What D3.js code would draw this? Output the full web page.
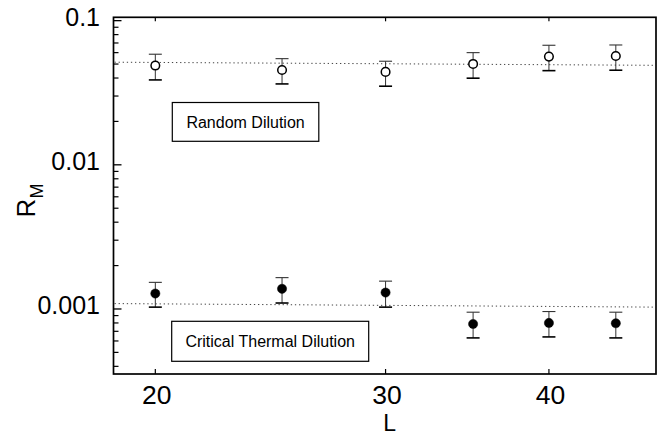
<!DOCTYPE html>
<html>
<head>
<meta charset="utf-8">
<script src="https://cdn.jsdelivr.net/npm/d3@7"></script>
<style>
  html, body { margin: 0; padding: 0; background: #fff; }
  svg { display: block; }
  text { font-family: "Liberation Sans", Arial, Helvetica, sans-serif; fill: #000; }
</style>
</head>
<body>
<svg id="chart" width="662" height="436"></svg>
<script>
// ---- data ----
const L = [20, 25, 30, 35, 40, 45];

const randomVal = [0.0488, 0.0455, 0.0441, 0.0501, 0.0563, 0.0569];
const randomLo  = [0.0388, 0.0364, 0.0351, 0.0399, 0.0450, 0.0453];
const randomHi  = [0.0585, 0.0545, 0.0523, 0.0600, 0.0675, 0.0678];

const criticalVal = [0.00128, 0.00138, 0.00130, 0.000787, 0.00080, 0.000796];
const criticalLo  = [0.00103, 0.00110, 0.00103, 0.00063, 0.00064, 0.00063];
const criticalHi  = [0.00153, 0.00165, 0.00156, 0.00095, 0.00096, 0.00095];

// dotted fit lines (value at left and right end of the L range)
const randomFit   = [0.0515, 0.0490];
const criticalFit = [0.00109, 0.00103];

const xDomain = [18.58, 48.3];
const yDomain = [0.000354, 0.1055];

const xTicks = [20, 30, 40];
const xTickLabels = ["20", "30", "40"];
const yTicks = [0.001, 0.01, 0.1];
const yTickLabels = ["0.001", "0.01", "0.1"];

const legendLabels = ["Random Dilution", "Critical Thermal Dilution"];

// ---- layout ----
const plotLeft = 113.5, plotRight = 656, plotTop = 17.3, plotBottom = 374;

const svg = d3.select("#chart");
const x = d3.scaleLog().domain(xDomain).range([plotLeft, plotRight]);
const y = d3.scaleLog().domain(yDomain).range([plotBottom, plotTop]);

// frame
svg.append("rect")
  .attr("x", plotLeft).attr("y", plotTop)
  .attr("width", plotRight - plotLeft).attr("height", plotBottom - plotTop)
  .attr("fill", "none").attr("stroke", "#000").attr("stroke-width", 1.7);

// y ticks (inward)
const minorY = y.ticks().filter(v => !yTicks.some(t => Math.abs(t - v) / t < 1e-6));
svg.append("g").selectAll("line").data(minorY).join("line")
  .attr("x1", plotLeft).attr("x2", plotLeft + 5)
  .attr("y1", d => y(d)).attr("y2", d => y(d))
  .attr("stroke", "#000").attr("stroke-width", 1.2);
svg.append("g").selectAll("line").data(yTicks).join("line")
  .attr("x1", plotLeft).attr("x2", plotLeft + 8)
  .attr("y1", d => y(d)).attr("y2", d => y(d))
  .attr("stroke", "#000").attr("stroke-width", 1.3);
svg.append("g").selectAll("text").data(yTicks).join("text")
  .attr("x", 100).attr("y", d => y(d) + 5.2)
  .attr("text-anchor", "end")
  .attr("font-size", 25)
  .text((d, i) => yTickLabels[i]);

// x ticks (inward, bottom and top)
svg.append("g").selectAll("line").data(xTicks).join("line")
  .attr("x1", d => x(d)).attr("x2", d => x(d))
  .attr("y1", plotBottom).attr("y2", plotBottom - 5)
  .attr("stroke", "#000").attr("stroke-width", 1.2);
svg.append("g").selectAll("line").data(xTicks).join("line")
  .attr("x1", d => x(d)).attr("x2", d => x(d))
  .attr("y1", plotTop).attr("y2", plotTop + 4)
  .attr("stroke", "#000").attr("stroke-width", 1.2);
svg.append("g").selectAll("text").data(xTicks).join("text")
  .attr("x", d => x(d) + 1.5).attr("y", 404)
  .attr("text-anchor", "middle")
  .attr("font-size", 26.5)
  .text((d, i) => xTickLabels[i]);

// axis titles
svg.append("text")
  .attr("x", 389.7).attr("y", 431)
  .attr("text-anchor", "middle")
  .attr("font-size", 23)
  .text("L");

const yt = svg.append("text")
  .attr("transform", "translate(35,200.5) rotate(-90)")
  .attr("text-anchor", "middle");
yt.append("tspan").attr("font-size", 26).text("R");
yt.append("tspan").attr("font-size", 18).attr("dy", 8).text("M");

// dotted fit lines
function fitLine(vals) {
  svg.append("line")
    .attr("x1", x(xDomain[0]) + 1).attr("x2", x(xDomain[1]) - 1)
    .attr("y1", y(vals[0])).attr("y2", y(vals[1]))
    .attr("stroke", "#444").attr("stroke-width", 1)
    .attr("stroke-dasharray", "1.3,2.8");
}
fitLine(randomFit);
fitLine(criticalFit);

// error bars + points
function series(vals, lo, hi, filled) {
  const g = svg.append("g");
  const data = L.map((l, i) => ({ l, v: vals[i], lo: lo[i], hi: hi[i] }));
  g.selectAll("line.v").data(data).join("line").attr("class", "v")
    .attr("x1", d => x(d.l)).attr("x2", d => x(d.l))
    .attr("y1", d => y(d.hi)).attr("y2", d => y(d.lo))
    .attr("stroke", "#333").attr("stroke-width", 1);
  g.selectAll("line.t").data(data).join("line").attr("class", "t")
    .attr("x1", d => x(d.l) - 6.5).attr("x2", d => x(d.l) + 6.5)
    .attr("y1", d => y(d.hi)).attr("y2", d => y(d.hi))
    .attr("stroke", "#333").attr("stroke-width", 1.1);
  g.selectAll("line.b").data(data).join("line").attr("class", "b")
    .attr("x1", d => x(d.l) - 6.5).attr("x2", d => x(d.l) + 6.5)
    .attr("y1", d => y(d.lo)).attr("y2", d => y(d.lo))
    .attr("stroke", "#000").attr("stroke-width", 1.6);
  g.selectAll("circle").data(data).join("circle")
    .attr("cx", d => x(d.l)).attr("cy", d => y(d.v))
    .attr("r", filled ? 4.6 : 4.3)
    .attr("fill", filled ? "#000" : "#fff")
    .attr("stroke", "#000").attr("stroke-width", filled ? 0.5 : 1.5);
}
series(randomVal, randomLo, randomHi, false);
series(criticalVal, criticalLo, criticalHi, true);

// legend boxes
const boxes = [
  { x: 172.3, y: 102.5, w: 146.5, h: 38.8 },
  { x: 171.7, y: 321.3, w: 197,   h: 40 }
];
boxes.forEach((b, i) => {
  svg.append("rect")
    .attr("x", b.x).attr("y", b.y).attr("width", b.w).attr("height", b.h)
    .attr("fill", "#fff").attr("stroke", "#000").attr("stroke-width", 1.2);
  svg.append("text")
    .attr("x", b.x + b.w / 2).attr("y", b.y + b.h / 2 + 5.8)
    .attr("text-anchor", "middle")
    .attr("font-size", 16)
    .text(legendLabels[i]);
});
</script>
</body>
</html>
